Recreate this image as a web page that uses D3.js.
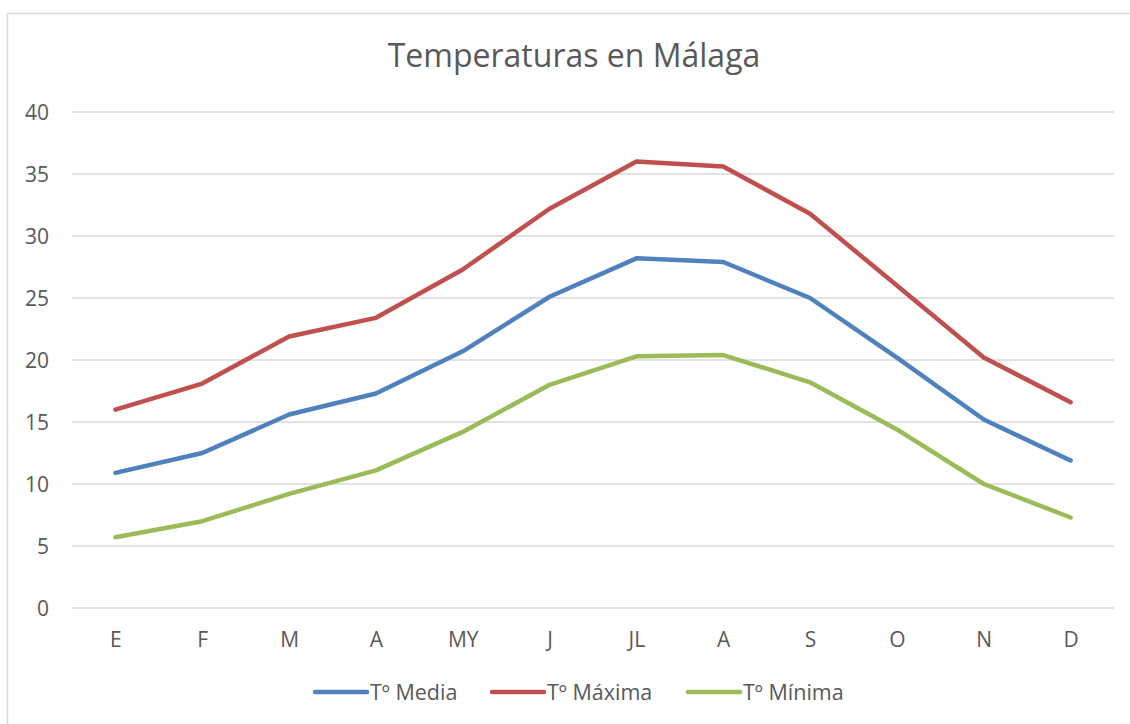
<!DOCTYPE html>
<html>
<head>
<meta charset="utf-8">
<script src="https://cdn.jsdelivr.net/npm/d3@7"></script>
<style>
  html, body { margin: 0; padding: 0; background: #fff; }
  svg { display: block; font-family: "Open Sans", sans-serif; }
</style>
</head>
<body>
<svg id="chart"></svg>
<script>
// Data
const months = ['E', 'F', 'M', 'A', 'MY', 'J', 'JL', 'A ', 'S', 'O', 'N', 'D'];
const monthLabels = ['E', 'F', 'M', 'A', 'MY', 'J', 'JL', 'A', 'S', 'O', 'N', 'D'];
const media = [10.9, 12.5, 15.6, 17.3, 20.7, 25.1, 28.2, 27.9, 25.0, 20.2, 15.2, 11.9];
const maxima = [16.0, 18.1, 21.9, 23.4, 27.3, 32.2, 36.0, 35.6, 31.8, 26.0, 20.2, 16.6];
const minima = [5.7, 7.0, 9.2, 11.1, 14.2, 18.0, 20.3, 20.4, 18.2, 14.4, 10.0, 7.3];
const yTicks = [0, 5, 10, 15, 20, 25, 30, 35, 40];
const seriesNames = ['Tº Media', 'Tº Máxima', 'Tº Mínima'];
const seriesColors = ['#4f81bd', '#c0504d', '#9bbb59'];

const series = [media, maxima, minima].map((values, i) => ({
  name: seriesNames[i], color: seriesColors[i], values
}));

const W = 1130, H = 724;
const margin = { top: 112, right: 16, bottom: 116, left: 72 };
const width = W - margin.left - margin.right;
const height = H - margin.top - margin.bottom;
const textColor = '#595959';

const svg = d3.select('#chart').attr('width', W).attr('height', H);

// outer chart frame
svg.append('rect')
  .attr('x', 7.5).attr('y', 13.5)
  .attr('width', W + 10).attr('height', H + 10)
  .attr('fill', 'none')
  .attr('stroke', '#d9d9d9')
  .attr('stroke-width', 1.5);

// title
svg.append('text')
  .attr('x', 574).attr('y', 67)
  .attr('text-anchor', 'middle')
  .style('font-size', '32px')
  .style('fill', textColor)
  .text('Temperaturas en Málaga');

const g = svg.append('g').attr('transform', `translate(${margin.left},${margin.top})`);

const x = d3.scalePoint().domain(months).range([0, width]).padding(0.5);
const y = d3.scaleLinear().domain([0, 40]).range([height, 0]);

// gridlines
g.append('g')
  .selectAll('line')
  .data(yTicks)
  .join('line')
  .attr('x1', 0).attr('x2', width)
  .attr('y1', d => y(d)).attr('y2', d => y(d))
  .attr('stroke', '#d9d9d9')
  .attr('stroke-width', 1.5);

// y axis labels
const yAxis = g.append('g')
  .call(d3.axisLeft(y).tickValues(yTicks).tickSize(0).tickPadding(23));
yAxis.select('.domain').remove();
yAxis.selectAll('text')
  .attr('dy', '0.36em')
  .style('font-size', '21px')
  .style('fill', textColor)
  .style('font-family', '"Open Sans", sans-serif');

// x axis labels
const xAxis = g.append('g')
  .attr('transform', `translate(0,${height})`)
  .call(d3.axisBottom(x).tickSize(0).tickPadding(24).tickFormat((d, i) => monthLabels[i]));
xAxis.select('.domain').remove();
xAxis.selectAll('text')
  .style('font-size', '21px')
  .style('fill', textColor)
  .style('font-family', '"Open Sans", sans-serif');

// lines
const line = d3.line()
  .x((d, i) => x(months[i]))
  .y(d => y(d));

g.selectAll('.series')
  .data(series)
  .join('path')
  .attr('class', 'series')
  .attr('d', d => line(d.values))
  .attr('fill', 'none')
  .attr('stroke', d => d.color)
  .attr('stroke-width', 4.5)
  .attr('stroke-linejoin', 'round')
  .attr('stroke-linecap', 'round');

// legend
const legendX = [313, 490, 686];
const legend = svg.append('g').attr('transform', 'translate(0,692)');
series.forEach((s, i) => {
  legend.append('line')
    .attr('x1', legendX[i] + 2).attr('x2', legendX[i] + 54)
    .attr('y1', 0).attr('y2', 0)
    .attr('stroke', s.color)
    .attr('stroke-width', 4.5)
    .attr('stroke-linecap', 'round');
  legend.append('text')
    .attr('x', legendX[i] + 57).attr('y', 7.5)
    .style('font-size', '21.5px')
    .style('fill', textColor)
    .text(s.name);
});
</script>
</body>
</html>
